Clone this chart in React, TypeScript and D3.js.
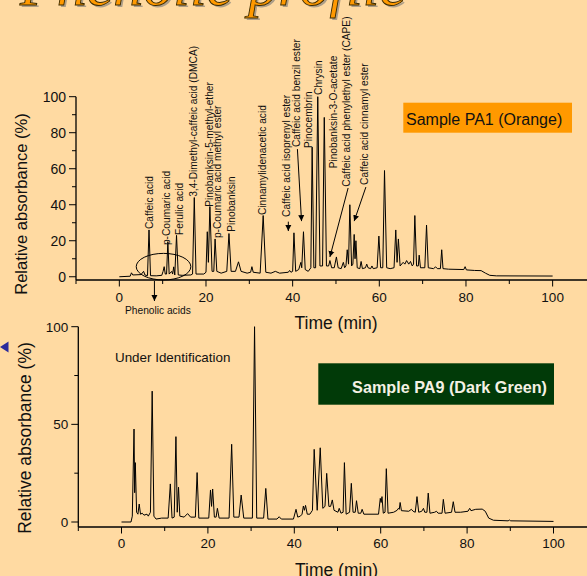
import React from 'react';
import * as d3 from 'd3';

const W = 587;
const H = 576;
const BG = '#FFDAA2';

// Sample PA1 chromatogram, [time (min), relative absorbance (%)]
const pa1Trace: [number, number][] = [
  [0, 0], [2.5, 0.3], [2.8, 2.2], [3.1, 1.0], [5.0, 1.2], [5.6, 3.0], [5.9, 1.0], [6.5, 0.6], [6.85, 26], [7.2, 0.6],
  [8.5, 0.5], [9.8, 0.8], [10.1, 3], [10.35, 5.6], [10.6, 1.5], [10.9, 1.5], [11.2, 19.5], [11.5, 1.5], [12.1, 3], [12.3, 1.5],
  [12.55, 5.5], [12.8, 1.0], [13.2, 23], [13.6, 1.0], [14.5, 0.8], [16.5, 1.0], [16.9, 1.5], [17.3, 44], [17.7, 1.5], [19.5, 1.5],
  [20.0, 2.5], [20.3, 25], [20.55, 8], [20.9, 39], [21.4, 3], [21.8, 3], [22.1, 21], [22.5, 3], [23.5, 2], [24.8, 3],
  [25.3, 24], [25.8, 3], [26.8, 3], [27.5, 8.3], [28.1, 3], [29.5, 2], [30.3, 2.5], [30.6, 5.6], [30.9, 2.5], [32.5, 2],
  [33.2, 34], [33.8, 2.5], [35, 2], [36, 3], [37, 2], [39, 2.5], [39.3, 3.5], [39.6, 2.5], [40.0, 3], [40.3, 24.4],
  [40.7, 3], [41.4, 4], [41.9, 8], [42.1, 5], [42.5, 25], [42.9, 4], [43.6, 3], [44.2, 5], [44.5, 72], [44.9, 5],
  [45.3, 5], [45.8, 100], [46.3, 6], [46.9, 6], [47.3, 88.5], [47.8, 6], [48.3, 6], [48.6, 9], [49.0, 5], [49.6, 5],
  [50.1, 11], [50.5, 5], [51.2, 4.5], [51.7, 8], [52.0, 5], [52.3, 6], [52.6, 15], [52.9, 7], [53.2, 40], [53.6, 6],
  [53.9, 7], [54.2, 23.5], [54.4, 10], [54.6, 20], [54.9, 5], [55.5, 4.5], [55.8, 8.5], [56.1, 4.5], [56.8, 5], [57.1, 7],
  [57.4, 5], [58.0, 4.5], [58.3, 6], [58.6, 4.5], [59.5, 5], [59.9, 22.6], [60.3, 5], [60.8, 5], [61.2, 59], [61.7, 5],
  [62.5, 4.5], [63.4, 5], [63.8, 26], [64.1, 8], [64.4, 21], [64.8, 6], [65.5, 8], [65.9, 7], [66.3, 9], [66.8, 7],
  [67.2, 8.5], [67.6, 6], [67.9, 7], [68.2, 34], [68.6, 6], [69.0, 6], [69.2, 12], [69.5, 5], [70.5, 5], [70.9, 28.7],
  [71.3, 5], [72.5, 4.5], [73.0, 5.5], [73.4, 4.5], [74.1, 4.5], [74.4, 15], [74.7, 4.5], [76, 4.2], [79.5, 4], [79.8, 5.6],
  [80.1, 3.8], [82, 3.5], [83.5, 3.4], [84.5, 2.0], [85.5, 0.8], [87, 0.5], [100, 0.4],
];

// Sample PA9 chromatogram, [time (min), relative absorbance (%)]
const pa9Trace: [number, number][] = [
  [0, 0], [2.2, 0], [2.5, 3], [2.9, 47.6], [3.05, 15], [3.2, 30.4], [3.5, 5], [3.8, 4], [4.1, 9.2], [4.4, 4],
  [4.8, 4.5], [5.2, 3.5], [5.9, 4], [6.2, 3], [6.7, 5], [7.1, 67], [7.5, 3], [8.0, 1.5], [9.3, 2], [10.8, 2],
  [11.3, 19.5], [11.7, 2], [12.2, 2.5], [12.6, 43.7], [12.9, 5], [13.2, 17.8], [13.5, 3], [14.5, 2.5], [15.3, 4.3], [16, 2.5],
  [17.1, 2.5], [17.5, 25.3], [17.9, 2], [20.2, 2], [20.6, 16.4], [20.85, 8], [21.1, 16.9], [21.5, 2.5], [21.9, 2.5], [22.2, 7],
  [22.6, 2], [24.9, 2], [25.5, 39.8], [26.0, 2.5], [27.2, 2.5], [27.7, 13.8], [28.3, 2], [30.3, 2], [30.8, 100], [31.3, 2],
  [32.9, 2], [33.4, 17.2], [33.9, 1.5], [36, 1.5], [36.5, 2.7], [37, 1.5], [39.8, 1.5], [40.4, 6.5], [40.8, 2.5], [41.4, 3],
  [41.8, 4], [42.1, 8.2], [42.35, 6], [42.6, 8.5], [43.0, 4], [43.6, 4], [44.2, 6], [44.6, 37.2], [45.3, 6], [46.0, 38],
  [46.6, 7], [47.1, 8], [47.5, 24.9], [48.0, 8], [48.4, 8], [48.8, 11.3], [49.2, 6], [50.1, 5], [50.4, 7], [50.8, 4.5],
  [51.3, 5], [51.6, 30.4], [52.0, 4], [52.8, 5], [53.2, 19.8], [53.6, 5], [54.1, 5], [54.4, 10.9], [54.8, 4.5], [55.4, 4.5],
  [55.7, 6.5], [56.1, 4], [59.5, 4], [59.9, 12.1], [60.1, 10], [60.3, 13], [60.6, 4.5], [61.0, 5], [61.3, 27.3], [61.7, 4.5],
  [63.0, 5], [63.8, 6], [64.1, 7], [64.3, 6.5], [64.5, 10], [64.8, 5.8], [66.5, 5.5], [67.1, 6.5], [67.5, 5.5], [68.0, 5],
  [68.4, 13], [68.8, 5], [69.5, 5.5], [69.9, 7], [70.2, 5], [70.7, 5], [71.0, 14.8], [71.4, 4.5], [72.5, 5], [72.9, 5.5],
  [73.3, 4.5], [74.2, 4.5], [74.5, 11.6], [74.9, 4.5], [76.4, 5], [76.8, 10.4], [77.2, 5], [78.5, 5], [80.2, 5.5], [80.6, 7],
  [80.9, 5.8], [82, 6.5], [83.5, 6.6], [84.2, 5.5], [85, 2], [86.1, 0.9], [89.5, 0.6], [89.8, 1.0], [90.1, 0.6], [100, 0.3],
];

const xTickValues = [-10, 0, 10, 20, 30, 40, 50, 60, 70, 80, 90, 100];
const xTickLabels = [0, 20, 40, 60, 80, 100];
const pa1YTicks = [0, 10, 20, 30, 40, 50, 60, 70, 80, 90, 100];
const pa1YLabels = [0, 20, 40, 60, 80, 100];
const pa9YTicks = [0, 25, 50, 75, 100];
const pa9YLabels = [0, 50, 100];

// Peak annotations for PA1: label text, time and absorbance where the rotated label starts
const pa1PeakNames = [
  'Caffeic acid', 'p-Coumaric acid', 'Ferulic acid', '3,4-Dimethyl-caffeic acid (DMCA)',
  'Pinobanksin-5-methyl-ether', 'p-Coumaric acid methyl ester', 'Pinobanksin', 'Cinnamylidenacetic acid',
  'Caffeic acid isoprenyl ester', 'Caffeic acid benzil ester', 'Pinocembrin', 'Chrysin',
  'Pinobanksin-3-O-acetate', 'Caffeic acid phenylethyl ester (CAPE)', 'Caffeic acid cinnamyl ester',
];
const pa1LabelT = [7.78, 11.7, 14.7, 17.9, 21.6, 23.5, 26.7, 33.9, 39.4, 41.8, 44.4, 46.7, 50.2, 53.2, 57.3];
const pa1LabelV = [26.5, 17.6, 23.2, 44.4, 38.9, 21.5, 25, 34.3, 33.2, 72, 71.5, 101, 60.2, 50, 51];

// Leader arrows [fromT, fromV, toT, toV]
const pa1Arrows: [number, number, number, number][] = [
  [39.0, 30.6, 39.0, 25.4],
  [41.1, 70.9, 42.05, 30.9],
  [52.8, 49.3, 48.6, 11],
  [56.9, 49.8, 54.2, 30.9],
];

const FONT = 'Arial, "Liberation Sans", Helvetica, sans-serif';
const SERIF = '"Liberation Serif", "Times New Roman", serif';

export default function App() {
  const x1 = d3.scaleLinear().domain([-10, 110]).range([76, 76 + 120 * 4.333]);
  const y1 = d3.scaleLinear().domain([-1.8, 100]).range([280, 96.7]);
  const x2 = d3.scaleLinear().domain([-10, 110]).range([78.3, 78.3 + 120 * 4.32]);
  const y2 = d3.scaleLinear().domain([-2.56, 100]).range([527, 326.7]);

  const line1 = d3.line<[number, number]>().x(d => x1(d[0])).y(d => y1(d[1]));
  const line2 = d3.line<[number, number]>().x(d => x2(d[0])).y(d => y2(d[1]));

  const axes = (
    x: d3.ScaleLinear<number, number>,
    y: d3.ScaleLinear<number, number>,
    yTicks: number[],
    yLabels: number[],
    yMajorStep: number,
    yLabelSize: number,
    xLabelBaseline: number,
  ) => {
    const y0 = y.range()[0];
    const yTop = y(100);
    const xAxis = x(-10);
    return (
      <g>
        <line x1={xAxis} x2={W + 5} y1={y0} y2={y0} stroke="#000" strokeWidth={1.3} />
        <line x1={xAxis} x2={xAxis} y1={y0} y2={yTop} stroke="#000" strokeWidth={1.3} />
        {xTickValues.map(t => (
          <line key={'xt' + t} x1={x(t)} x2={x(t)} y1={y0} y2={y0 + (t % 20 === 0 ? 6.5 : 4)} stroke="#000" strokeWidth={1} />
        ))}
        {xTickLabels.map(t => (
          <text key={'xl' + t} x={x(t)} y={xLabelBaseline} fontSize={13.5} fontFamily={FONT} textAnchor="middle" fill="#111">{t}</text>
        ))}
        {yTicks.map(v => (
          <line key={'yt' + v} x1={xAxis - (v % yMajorStep === 0 ? 7 : 4)} x2={xAxis} y1={y(v)} y2={y(v)} stroke="#000" strokeWidth={1} />
        ))}
        {yLabels.map(v => (
          <text key={'yl' + v} x={xAxis - 10} y={y(v)} dy="0.36em" fontSize={yLabelSize} fontFamily={FONT} textAnchor="end" fill="#111">{v}</text>
        ))}
      </g>
    );
  };

  return (
    <svg width={W} height={H} style={{ position: 'absolute', left: 0, top: 0 }} xmlns="http://www.w3.org/2000/svg">
      <defs>
        <marker id="ah" viewBox="0 0 10 10" refX="10" refY="5" markerWidth="6" markerHeight="8" markerUnits="userSpaceOnUse" orient="auto">
          <path d="M0,0 L10,5 L0,10 z" fill="#000" />
        </marker>
      </defs>
      <rect x={0} y={0} width={W} height={H} fill={BG} />

      {/* Title, mostly clipped at the top */}
      <text x={22} y={7} fontSize={60} fontStyle="italic" fontFamily={SERIF} fill="#777" opacity={0.6}>Phenolic profile</text>
      <text x={20} y={5} fontSize={60} fontStyle="italic" fontFamily={SERIF} fill="#FF9900" stroke="#3a2a00" strokeWidth={0.9}>Phenolic profile</text>

      {/* Blue navigation triangle */}
      <path d="M0,347 L8.5,341.5 L8.5,352.5 Z" fill="#2B2B9C" />

      {/* ---------- Top chart: PA1 ---------- */}
      {axes(x1, y1, pa1YTicks, pa1YLabels, 20, 14, 302)}
      <path d={line1(pa1Trace) || ''} fill="none" stroke="#000" strokeWidth={1} strokeLinejoin="round" />
      {pa1PeakNames.map((n, i) => (
        <text key={n} transform={`translate(${x1(pa1LabelT[i])},${y1(pa1LabelV[i])}) rotate(-90)`} fontSize={10.2} fontFamily={FONT} fill="#111">{n}</text>
      ))}
      {pa1Arrows.map((a, i) => (
        <line key={'ar' + i} x1={x1(a[0])} y1={y1(a[1])} x2={x1(a[2])} y2={y1(a[3])} stroke="#000" strokeWidth={1} markerEnd="url(#ah)" />
      ))}
      <ellipse cx={x1(10.2)} cy={y1(5.6)} rx={27.3} ry={13.3} fill="none" stroke="#000" strokeWidth={1} />
      <line x1={x1(8.1)} y1={281} x2={x1(8.1)} y2={301} stroke="#000" strokeWidth={1} markerEnd="url(#ah)" />
      <text x={x1(8.9)} y={314} fontSize={10.2} fontFamily={FONT} textAnchor="middle" fill="#111">Phenolic acids</text>

      <rect x={403.3} y={102.7} width={168.7} height={30} fill="#FF9900" />
      <text x={406} y={125} fontSize={16} fontFamily={FONT} fill="#111">Sample PA1 (Orange)</text>

      <text transform="translate(27,204) rotate(-90)" fontSize={16.6} fontFamily={FONT} textAnchor="middle" fill="#111">Relative absorbance (%)</text>
      <text x={336} y={329} fontSize={17.5} fontFamily={FONT} textAnchor="middle" fill="#111">Time (min)</text>

      {/* ---------- Bottom chart: PA9 ---------- */}
      {axes(x2, y2, pa9YTicks, pa9YLabels, 50, 13.5, 548)}
      <path d={line2(pa9Trace) || ''} fill="none" stroke="#000" strokeWidth={1} strokeLinejoin="round" />
      <text x={115} y={362} fontSize={13.4} fontFamily={FONT} fill="#111">Under Identification</text>

      <rect x={318.3} y={363.3} width={235.7} height={41.4} fill="#013A08" />
      <text x={547} y={393.3} fontSize={16.2} fontWeight="bold" fontFamily={FONT} textAnchor="end" fill="#F4F1E4">Sample PA9 (Dark Green)</text>

      <text transform="translate(30.5,438) rotate(-90)" fontSize={17.5} fontFamily={FONT} textAnchor="middle" fill="#111">Relative absorbance (%)</text>
      <text x={336.5} y={576} fontSize={17.5} fontFamily={FONT} textAnchor="middle" fill="#111">Time (min)</text>
    </svg>
  );
}
